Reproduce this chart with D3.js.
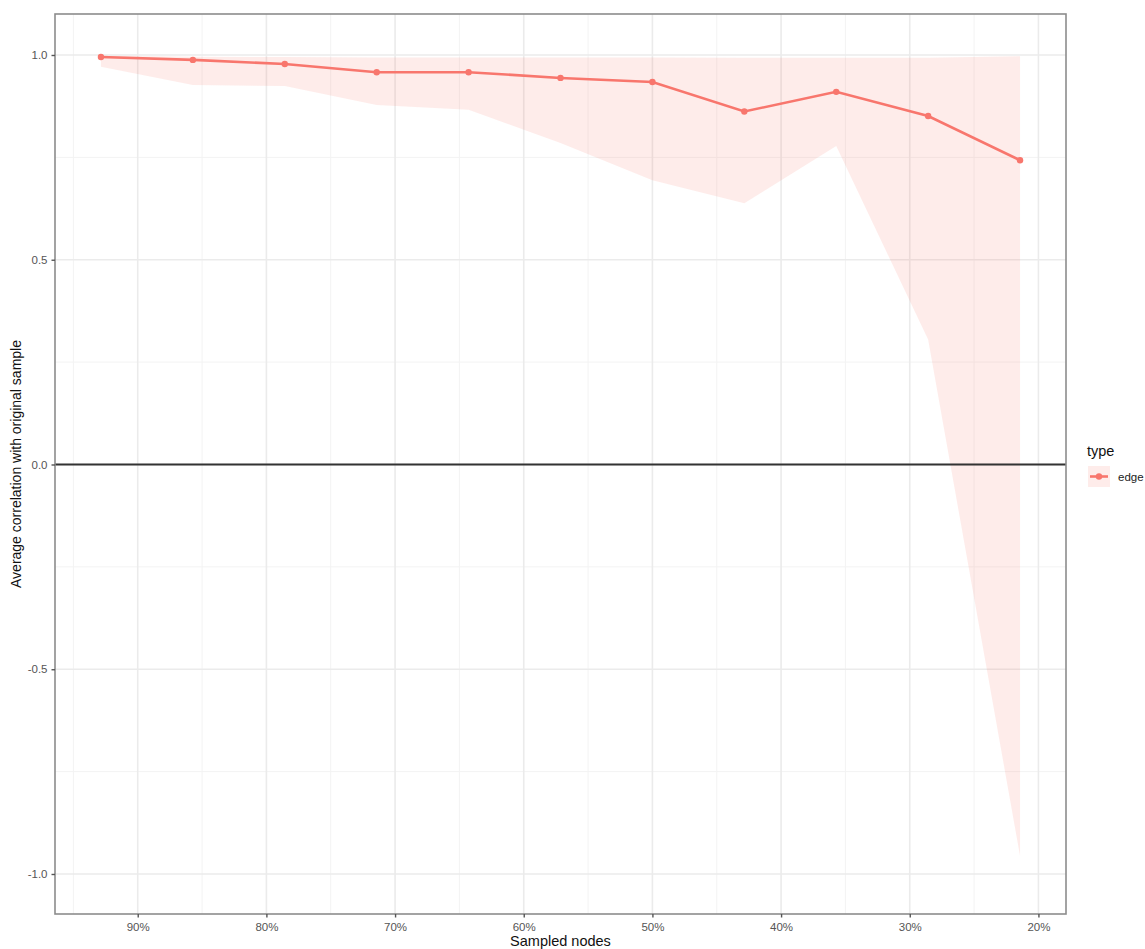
<!DOCTYPE html>
<html>
<head>
<meta charset="utf-8">
<script src="https://cdn.jsdelivr.net/npm/d3@7"></script>
<style>
  body { margin: 0; background: #fff; }
  svg { display: block; font-family: "Liberation Sans", Arial, sans-serif; }
</style>
</head>
<body>
<svg id="chart" width="1145" height="949"></svg>
<script>
// ---- data ----
const sampled = [13/14, 12/14, 11/14, 10/14, 9/14, 8/14, 7/14, 6/14, 5/14, 4/14, 3/14];
const meanCorr = [0.995, 0.988, 0.978, 0.958, 0.958, 0.944, 0.934, 0.862, 0.910, 0.851, 0.743];
const upperCorr = [0.998, 0.996, 0.995, 0.994, 0.994, 0.994, 0.994, 0.993, 0.993, 0.993, 0.997];
const lowerCorr = [0.971, 0.927, 0.924, 0.878, 0.866, 0.785, 0.694, 0.638, 0.778, 0.305, -0.956];
const xTicks = [0.9, 0.8, 0.7, 0.6, 0.5, 0.4, 0.3, 0.2];
const xMinor = [0.95, 0.85, 0.75, 0.65, 0.55, 0.45, 0.35, 0.25];
const yTicks = [1.0, 0.5, 0.0, -0.5, -1.0];
const yMinor = [0.75, 0.25, -0.25, -0.75];
const seriesName = "edge";
const legendTitle = "type";
const xTitle = "Sampled nodes";
const yTitle = "Average correlation with original sample";

const color = "#F8766D";

const svg = d3.select("#chart");
const L = 55, R = 1066, T = 14, B = 914;

const x = d3.scaleLinear().domain([0.96429, 0.17857]).range([L, R]);
const y = d3.scaleLinear().domain([-1.0977, 1.1001]).range([B, T]);

const data = sampled.map((s, i) => ({ s, m: meanCorr[i], lo: lowerCorr[i], hi: upperCorr[i] }));

// gridlines
const g = svg.append("g");
g.selectAll(".ymin").data(yMinor).join("line")
  .attr("x1", L).attr("x2", R).attr("y1", d => y(d)).attr("y2", d => y(d))
  .attr("stroke", "#f3f3f3").attr("stroke-width", 1);
g.selectAll(".xmin").data(xMinor).join("line")
  .attr("y1", T).attr("y2", B).attr("x1", d => x(d)).attr("x2", d => x(d))
  .attr("stroke", "#f3f3f3").attr("stroke-width", 1);
g.selectAll(".ymaj").data(yTicks).join("line")
  .attr("x1", L).attr("x2", R).attr("y1", d => y(d)).attr("y2", d => y(d))
  .attr("stroke", "#ebebeb").attr("stroke-width", 1.6);
g.selectAll(".xmaj").data(xTicks).join("line")
  .attr("y1", T).attr("y2", B).attr("x1", d => x(d)).attr("x2", d => x(d))
  .attr("stroke", "#ebebeb").attr("stroke-width", 1.6);

// ribbon
const area = d3.area().x(d => x(d.s)).y0(d => y(d.lo)).y1(d => y(d.hi));
svg.append("path").datum(data).attr("d", area).attr("fill", color).attr("fill-opacity", 0.14);

// zero line
svg.append("line").attr("x1", L).attr("x2", R).attr("y1", y(0)).attr("y2", y(0))
  .attr("stroke", "#333").attr("stroke-width", 2);

// line + points
const line = d3.line().x(d => x(d.s)).y(d => y(d.m));
svg.append("path").datum(data).attr("d", line).attr("fill", "none")
  .attr("stroke", color).attr("stroke-width", 2.6);
svg.selectAll(".pt").data(data).join("circle")
  .attr("cx", d => x(d.s)).attr("cy", d => y(d.m)).attr("r", 3.2).attr("fill", color);

// panel border
svg.append("rect").attr("x", L).attr("y", T).attr("width", R - L).attr("height", B - T)
  .attr("fill", "none").attr("stroke", "#8c8c8c").attr("stroke-width", 1.6);

// axes
const xAxis = d3.axisBottom(x).tickValues(xTicks).tickSize(3.5).tickPadding(5)
  .tickFormat(d3.format(".0%"));
const xa = svg.append("g").attr("transform", `translate(0,${B})`).call(xAxis);
xa.select(".domain").remove();
xa.selectAll(".tick line").attr("stroke", "#555").attr("stroke-width", 1.4);
xa.selectAll("text").attr("fill", "#555").attr("font-size", 11.5);

const fmtY = d3.format(".1f");
const yAxis = d3.axisLeft(y).tickValues(yTicks).tickSize(3.5).tickPadding(4)
  .tickFormat(d => fmtY(d).replace("\u2212", "-"));
const ya = svg.append("g").attr("transform", `translate(${L},0)`).call(yAxis);
ya.select(".domain").remove();
ya.selectAll(".tick line").attr("stroke", "#555").attr("stroke-width", 1.4);
ya.selectAll("text").attr("fill", "#555").attr("font-size", 11.5);

// axis titles
svg.append("text").attr("x", (L + R) / 2).attr("y", 946).attr("text-anchor", "middle")
  .attr("font-size", 14.5).attr("fill", "#111").text(xTitle);
svg.append("text").attr("transform", `translate(21,${(T + B) / 2}) rotate(-90)`)
  .attr("text-anchor", "middle").attr("font-size", 14).attr("fill", "#111").text(yTitle);

// legend
const lg = svg.append("g");
lg.append("text").attr("x", 1087).attr("y", 456).attr("font-size", 14.5).attr("fill", "#111").text(legendTitle);
lg.append("rect").attr("x", 1088).attr("y", 466).attr("width", 22).attr("height", 21)
  .attr("fill", color).attr("fill-opacity", 0.14);
lg.append("line").attr("x1", 1090).attr("x2", 1108).attr("y1", 476.5).attr("y2", 476.5)
  .attr("stroke", color).attr("stroke-width", 2.6);
lg.append("circle").attr("cx", 1099).attr("cy", 476.5).attr("r", 3.2).attr("fill", color);
lg.append("text").attr("x", 1118).attr("y", 480.5).attr("font-size", 11.5).attr("fill", "#222").text(seriesName);
</script>
</body>
</html>
